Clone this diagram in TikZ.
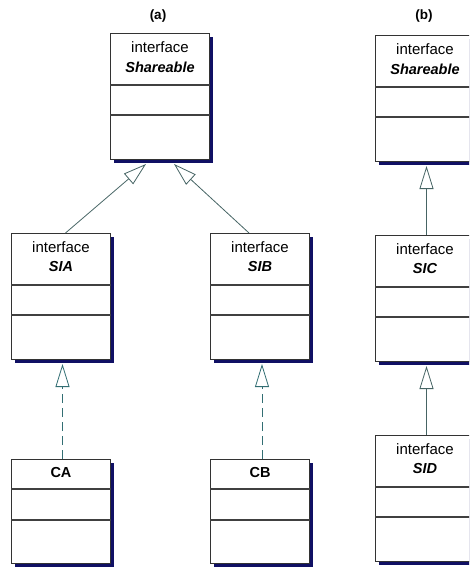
\documentclass[tikz,border=0pt]{standalone}
\usepackage{fontspec}
\setmainfont{Liberation Sans}
\usetikzlibrary{shadows,arrows.meta,calc}
\definecolor{navy}{RGB}{16,16,100}
\definecolor{realc}{RGB}{50,110,115}
\definecolor{genc}{RGB}{70,100,100}
\begin{document}
\begin{tikzpicture}[x=1pt,y=-1pt,
 box/.style={draw=black!80, fill=white, line width=1pt, minimum width=99pt, minimum height=126pt, anchor=north west, inner sep=0pt, drop shadow={shadow xshift=3pt, shadow yshift=-3pt, fill=navy, opacity=1}},
 cbox/.style={box, minimum height=104pt},
 kw/.style={font=\fontsize{15}{17}\selectfont, inner sep=0pt},
 nm/.style={font=\fontsize{14.5}{17}\selectfont\bfseries\itshape, inner sep=0pt},
 cn/.style={font=\fontsize{14.5}{17}\selectfont\bfseries, inner sep=0pt},
 ttl/.style={font=\fontsize{13.5}{15}\selectfont\bfseries, inner sep=0pt},
 div/.style={draw=black!75, line width=1.2pt},
 gen/.style={draw=genc, line width=0.8pt, -{Triangle[open, length=23pt, width=14pt, fill=white]}},
 real/.style={gen, draw=realc, dash pattern=on 9pt off 5pt}
]
\useasboundingbox (0,0) rectangle (469,568);
\clip (0,0) rectangle (469,568);

% titles
\node[ttl] (ta) at (158,16) {(a)};
\node[ttl] (tb) at (424,16) {(b)};

% (a) boxes
\node[box] (SA) at (110,33) {};
\node[box] (SIA) at (11,233) {};
\node[box] (SIB) at (210,233) {};
\node[cbox] (CA) at (11,459) {};
\node[cbox] (CB) at (210,459) {};
% (b) boxes
\node[box] (SB) at (375,35) {};
\node[box] (SIC) at (375,235) {};
\node[box] (SID) at (375,435) {};

% interface dividers and texts
\foreach \b/\n in {SA/Shareable,SIA/SIA,SIB/SIB,SB/Shareable,SIC/SIC,SID/SID}{
  \draw[div] ($(\b.north west)+(0,52)$) -- ($(\b.north east)+(0,52)$);
  \draw[div] ($(\b.north west)+(0,82)$) -- ($(\b.north east)+(0,82)$);
  \node[kw] (\b k) at ($(\b.north)+(0,14)$) {interface};
  \node[nm] (\b n) at ($(\b.north)+(0,34)$) {\n};
}
% class boxes
\foreach \b/\n in {CA/CA,CB/CB}{
  \draw[div] ($(\b.north west)+(0,30)$) -- ($(\b.north east)+(0,30)$);
  \draw[div] ($(\b.north west)+(0,61)$) -- ($(\b.north east)+(0,61)$);
  \node[cn] (\b n) at ($(\b.north)+(0,14)$) {\n};
}

% generalizations (a)
\draw[gen] ($(SIA.north)+(4.5,0)$) -- ($(SA.south)+(-14,4)$);
\draw[gen] ($(SIB.north)+(-11,0)$) -- ($(SA.south)+(14,4)$);
% realizations (a)
\draw[real] ($(CA.north)+(1.5,0)$) -- ($(SIA.south)+(1.5,4)$);
\draw[real] ($(CB.north)+(2,0)$) -- ($(SIB.south)+(2,4)$);
% generalizations (b)
\draw[gen] ($(SIC.north)+(1.5,0)$) -- ($(SB.south)+(1.5,4)$);
\draw[gen] ($(SID.north)+(1.5,0)$) -- ($(SIC.south)+(1.5,4)$);
\end{tikzpicture}
\end{document}
